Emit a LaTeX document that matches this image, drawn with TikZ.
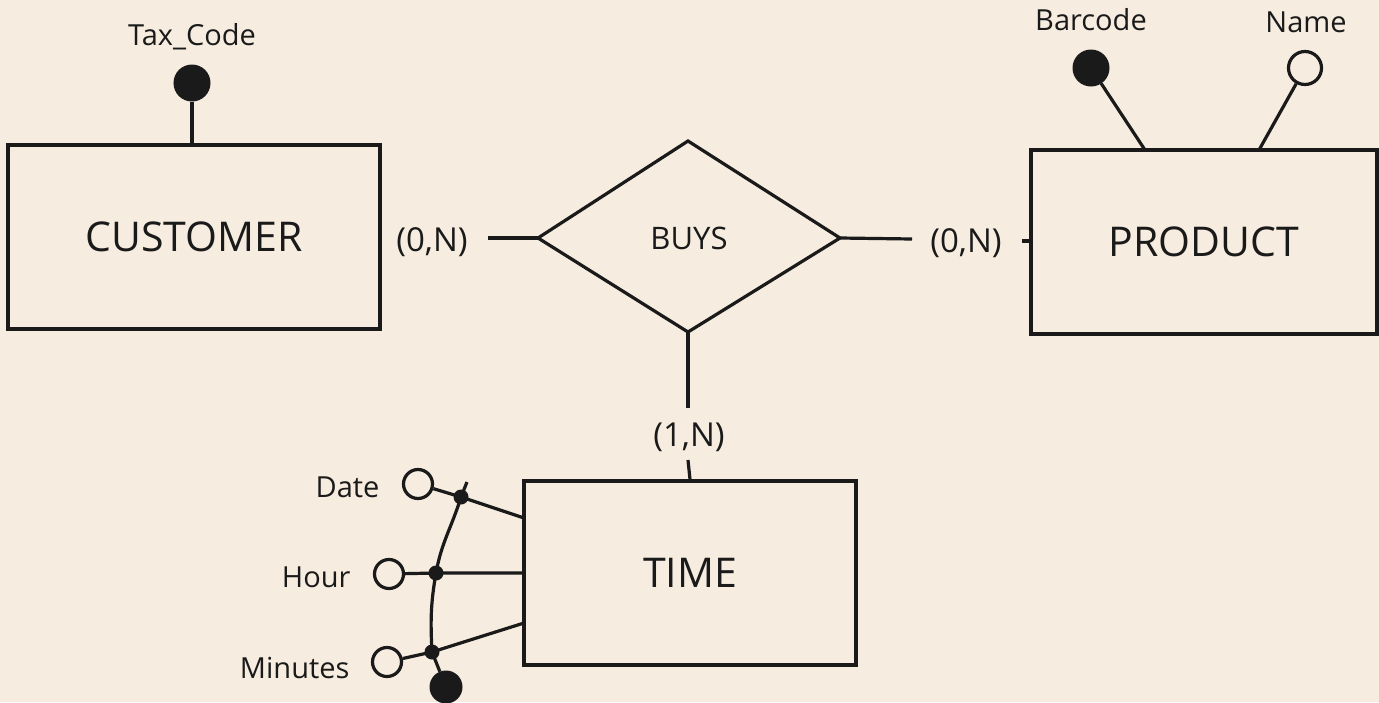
\documentclass[tikz,border=0pt]{standalone}
\usepackage{fontspec}
\setmainfont{Open Sans}
\usetikzlibrary{shapes.geometric}
\definecolor{bg}{HTML}{F6ECDF}
\definecolor{ink}{HTML}{1A1A1A}
\begin{document}
\begin{tikzpicture}[x=1pt,y=-1pt,
  line width=3.2pt, draw=ink, text=ink,
  entity/.style={draw=ink, line width=3.2pt, rectangle, inner sep=0pt, font=\fontsize{41}{46}\selectfont},
  lbl/.style={font=\fontsize{29}{34}\selectfont, inner sep=0pt},
  card/.style={font=\fontsize{33}{38}\selectfont, inner sep=0pt},
  keyattr/.style={circle, fill=ink, draw=ink, line width=1pt, minimum size=36pt, inner sep=0pt},
  attr/.style={circle, draw=ink, fill=bg, line width=3.2pt, minimum size=33pt, inner sep=0pt},
  jdot/.style={circle, fill=ink, minimum size=15pt, inner sep=0pt},
]
\fill[bg] (0,0) rectangle (1379,702);
\useasboundingbox (0,0) rectangle (1379,702);

% entities
\node[entity, minimum width=372pt, minimum height=184pt] (cust) at (194,237) {CUSTOMER};
\node[entity, minimum width=346pt, minimum height=184pt] (prod) at (1204,242) {PRODUCT};
\node[entity, minimum width=332pt, minimum height=184pt] (time) at (690,573) {TIME};

% relationship diamond
\coordinate (dl) at (538,238);
\coordinate (dt) at (688,141);
\coordinate (dr) at (840,238);
\coordinate (db) at (688,332);
\draw[line join=miter] (dl) -- (dt) -- (dr) -- (db) -- cycle;
\node[font=\fontsize{31}{36}\selectfont, inner sep=0pt] (buys) at (689,238) {BUYS};

% cardinalities
\node[card] (c1) at (432,242) {(0,N)};
\node[card] (c2) at (966,243) {(0,N)};
\node[card] (c3) at (689,437) {(1,N)};
\coordinate (c1e) at (488,238);
\coordinate (c2w) at (912,239);
\coordinate (c2e) at (1022,241);
\coordinate (c3n) at (688,408);
\coordinate (c3s) at (688,460);

\draw (c1e) -- (dl);
\draw (dr) -- (c2w);
\draw (c2e) -- (prod.west |- c2e);
\draw (db) -- (c3n);
\draw (c3s) -- (time.north);

% CUSTOMER attribute
\node[keyattr] (tax) at (192,83) {};
\node[lbl] (taxl) at (192,37) {Tax\_Code};
\draw (tax) -- (tax |- cust.north);

% PRODUCT attributes
\node[keyattr] (bar) at (1091,68) {};
\node[lbl] (barl) at (1091,20) {Barcode};
\node[attr] (name) at (1305,68) {};
\node[lbl] (namel) at (1306,22) {Name};
\coordinate (barin) at (1145,150);
\coordinate (namein) at (1259,150);
\draw (bar) -- (barin);
\draw (name) -- (namein);

% TIME attributes
\node[attr, minimum size=29pt] (date) at (418,484) {};
\node[attr, minimum size=29pt] (hour) at (389,574) {};
\node[attr, minimum size=29pt] (mins) at (387,662) {};
\node[lbl, anchor=east] (datel) at (381,487) {Date};
\node[lbl, anchor=east] (hourl) at (352,577) {Hour};
\node[lbl, anchor=east] (minsl) at (351,668) {Minutes};

\coordinate (jd) at (461,497);
\coordinate (jh) at (436,573);
\coordinate (jm) at (432,652);
\coordinate (tick) at (467,482);
\coordinate (td) at (524,518);
\coordinate (tm) at (524,623);

\draw (date) -- (jd) -- (td);
\draw (hour) -- (jh) -- (time.west |- jh);
\draw (mins) -- (jm) -- (tm);
\node[keyattr, minimum size=32pt] (ckey) at (446,687) {};
\draw (tick) -- (jd) to[out=253,in=80] (jh) to[out=260,in=93] (jm) -- (ckey);

\node[jdot] (jdn) at (jd) {};
\node[jdot] (jhn) at (jh) {};
\node[jdot] (jmn) at (jm) {};
\end{tikzpicture}
\end{document}
